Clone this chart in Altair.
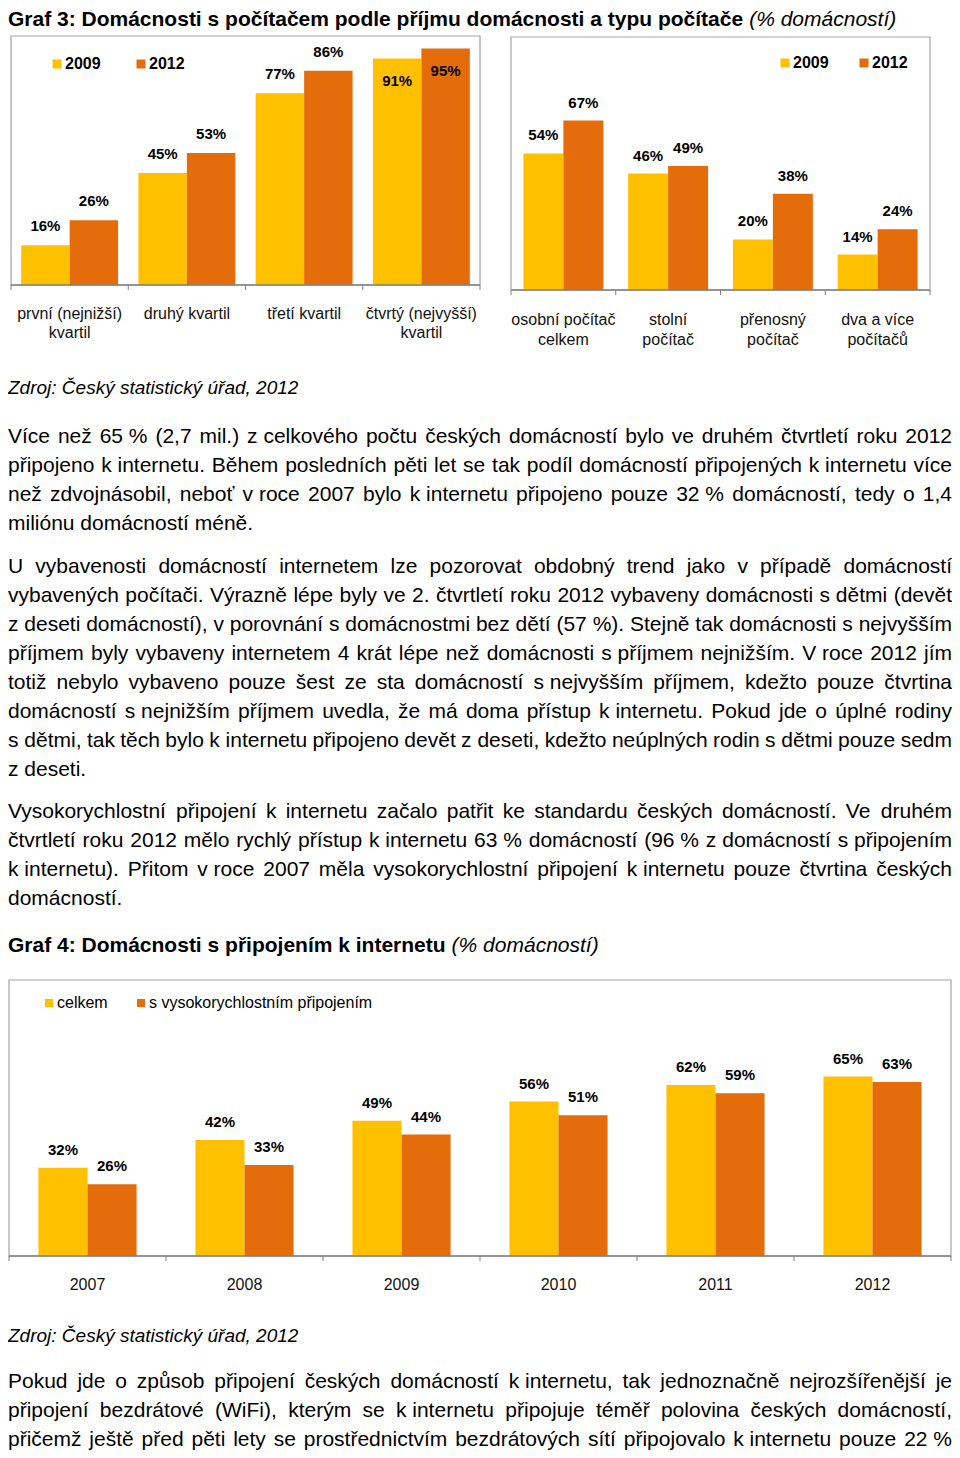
import unicodedata
import altair as alt
import pandas as pd

FONT = "Liberation Sans"
YELLOW = "#FFC000"
ORANGE = "#E46C0A"
FRAME = "#A6A6A6"
AXIS = "#808080"

# ---------------- data ----------------
income_categories = ["první (nejnižší)\nkvartil", "druhý kvartil", "třetí kvartil",
                     "čtvrtý (nejvyšší)\nkvartil"]
income_2009 = [16, 45, 77, 91]
income_2012 = [26, 53, 86, 95]

pc_categories = ["osobní počítač\ncelkem", "stolní\npočítač", "přenosný\npočítač",
                 "dva a více\npočítačů"]
pc_2009 = [54, 46, 20, 14]
pc_2012 = [67, 49, 38, 24]

graf3_series = ["2009", "2012"]

net_years = ["2007", "2008", "2009", "2010", "2011", "2012"]
net_total = [32, 42, 49, 56, 62, 65]
net_fast = [26, 33, 44, 51, 59, 63]
graf4_series = ["celkem", "s vysokorychlostním připojením"]

title3_bold = "Graf 3: Domácnosti s počítačem podle příjmu domácnosti a typu počítače"
title3_ital = "(% domácností)"
title4_bold = "Graf 4: Domácnosti s připojením k internetu"
title4_ital = "(% domácností)"
source_text = "Zdroj: Český statistický úřad, 2012"

# "~" marks a non-stretching space
para1 = [
    "Více než 65~% (2,7 mil.) z~celkového počtu českých domácností bylo ve druhém čtvrtletí roku 2012",
    "připojeno k~internetu. Během posledních pěti let se tak podíl domácností připojených k~internetu více",
    "než zdvojnásobil, neboť v~roce 2007 bylo k~internetu připojeno pouze 32~% domácností, tedy o 1,4",
    "miliónu domácností méně.",
]
para2 = [
    "U vybavenosti domácností internetem lze pozorovat obdobný trend jako v případě domácností",
    "vybavených počítači. Výrazně lépe byly ve 2. čtvrtletí roku 2012 vybaveny domácnosti s~dětmi (devět",
    "z~deseti domácností), v~porovnání s~domácnostmi bez dětí (57~%). Stejně tak domácnosti s~nejvyšším",
    "příjmem byly vybaveny internetem 4 krát lépe než domácnosti s~příjmem nejnižším. V~roce 2012 jím",
    "totiž nebylo vybaveno pouze šest ze sta domácností s~nejvyšším příjmem, kdežto pouze čtvrtina",
    "domácností s~nejnižším příjmem uvedla, že má doma přístup k~internetu. Pokud jde o úplné rodiny",
    "s~dětmi, tak těch bylo k~internetu připojeno devět z~deseti, kdežto neúplných rodin s~dětmi pouze sedm",
    "z~deseti.",
]
para3 = [
    "Vysokorychlostní připojení k internetu začalo patřit ke standardu českých domácností. Ve druhém",
    "čtvrtletí roku 2012 mělo rychlý přístup k~internetu 63~% domácností (96~% z~domácností s~připojením",
    "k~internetu). Přitom v~roce 2007 měla vysokorychlostní připojení k~internetu pouze čtvrtina českých",
    "domácností.",
]
para4 = [
    "Pokud jde o způsob připojení českých domácností k~internetu, tak jednoznačně nejrozšířenější je",
    "připojení bezdrátové (WiFi), kterým se k~internetu připojuje téměř polovina českých domácností,",
    "přičemž ještě před pěti lety se prostřednictvím bezdrátových sítí připojovalo k~internetu pouze 22~%",
]

# ---------------- text metrics (Arial / Liberation Sans) ----------------
REG = {' ': 278, '!': 278, '"': 355, '%': 889, '&': 667, "'": 191, '(': 333, ')': 333,
       ',': 278, '-': 333, '.': 278, '/': 278, ':': 278, ';': 278, '?': 556,
       'A': 667, 'B': 667, 'C': 722, 'D': 722, 'E': 667, 'F': 611, 'G': 778, 'H': 722,
       'I': 278, 'J': 500, 'K': 667, 'L': 556, 'M': 833, 'N': 722, 'O': 778, 'P': 667,
       'Q': 778, 'R': 722, 'S': 667, 'T': 611, 'U': 722, 'V': 667, 'W': 944, 'X': 667,
       'Y': 667, 'Z': 611,
       'a': 556, 'b': 556, 'c': 500, 'd': 556, 'e': 556, 'f': 278, 'g': 556, 'h': 556,
       'i': 222, 'j': 222, 'k': 500, 'l': 222, 'm': 833, 'n': 556, 'o': 556, 'p': 556,
       'q': 556, 'r': 333, 's': 500, 't': 278, 'u': 556, 'v': 500, 'w': 722, 'x': 500,
       'y': 500, 'z': 500}
REG_SPECIAL = {'í': 278, 'Í': 278, 'ď': 615, 'ť': 375}
BOLD = {' ': 278, ':': 333, '(': 333, ')': 333, '%': 889, 'G': 778, 'D': 722,
        'a': 556, 'c': 556, 'd': 611, 'e': 556, 'f': 333, 'i': 278, 'j': 278, 'k': 556,
        'l': 278, 'm': 889, 'n': 611, 'o': 611, 'p': 611, 'r': 389, 's': 556, 't': 333,
        'u': 611, 'y': 556}
BOLD_SPECIAL = {'í': 278}


def char_w(ch, table, special):
    if ch in special:
        return special[ch]
    if ch in table:
        return table[ch]
    if ch.isdigit():
        return 556
    base = unicodedata.normalize("NFD", ch)[0]
    return table.get(base, 556)


def text_w(s, fs, bold=False):
    table, special = (BOLD, BOLD_SPECIAL) if bold else (REG, REG_SPECIAL)
    return sum(char_w(c, table, special) for c in s) * fs / 1000.0


W, H = 944, 1442
BODY_FS = 21
LINE = 29


def justify(lines, y0, last_justified=False):
    rows = []
    for i, line in enumerate(lines):
        units = [u.replace("~", " ") for u in line.split(" ")]
        widths = [text_w(u, BODY_FS) for u in units]
        do_just = (i < len(lines) - 1) or last_justified
        if do_just and len(units) > 1:
            gap = (W - sum(widths)) / (len(units) - 1)
        else:
            gap = text_w(" ", BODY_FS)
        x = 0.0
        for u, w in zip(units, widths):
            rows.append({"w": u, "x": round(x, 2), "y": y0 + i * LINE})
            x += w + gap
    return rows


# ---------------- bar panels ----------------
def panel(cats, series, a_vals, b_vals, x0, x1, ytop, ybot, pad_outer, off,
          lab_y, lab_lh, legend_kw, clamp=None):
    df = pd.DataFrame([{"cat": c, "s": s, "v": v}
                       for c, a, b in zip(cats, a_vals, b_vals)
                       for s, v in ((series[0], a), (series[1], b))])
    cat_df = pd.DataFrame({"cat": cats})
    one = pd.DataFrame({"k": [0]})
    xs = alt.Scale(domain=cats, range=[x0, x1], paddingInner=0, paddingOuter=0)
    ys = alt.Scale(domain=[0, 100], range=[ybot, ytop])
    xo = alt.Scale(domain=series, paddingInner=0, paddingOuter=pad_outer)
    X = alt.X("cat:N", scale=xs, axis=None, sort=cats)
    XO = alt.XOffset("s:N", scale=xo, sort=series)

    frame = alt.Chart(one).mark_rect(fill="transparent", stroke=FRAME, strokeWidth=1.2).encode(
        x=alt.value(x0), x2=alt.value(x1), y=alt.value(ytop), y2=alt.value(ybot))
    bars = alt.Chart(df).mark_bar().encode(
        x=X, xOffset=XO, y=alt.Y("v:Q", scale=ys, axis=None),
        color=alt.Color("s:N", scale=alt.Scale(domain=series, range=[YELLOW, ORANGE]),
                        legend=alt.Legend(**legend_kw)))
    if clamp is None:
        expr = f"datum.v + {off}"
    else:
        expr = f"datum.v > {clamp} ? datum.v - 9 : datum.v + {off}"
    vlabels = alt.Chart(df).transform_calculate(ly=expr, t="datum.v + '%'").mark_text(
        font=FONT, fontSize=15, fontWeight="bold", color="#000", baseline="middle").encode(
        x=X, xOffset=XO, y=alt.Y("ly:Q", scale=ys, axis=None), text="t:N")
    clabels = alt.Chart(cat_df).mark_text(
        font=FONT, fontSize=16, color="#111", baseline="top", lineBreak="\n",
        lineHeight=lab_lh).encode(x=X, y=alt.value(lab_y), text="cat:N")
    ticks = alt.Chart(cat_df).mark_rule(color=AXIS).encode(
        x=alt.X("cat:N", scale=xs, axis=None, sort=cats, bandPosition=0),
        y=alt.value(ybot), y2=alt.value(ybot + 5))
    end_tick = alt.Chart(one).mark_rule(color=AXIS).encode(
        x=alt.value(x1), y=alt.value(ybot), y2=alt.value(ybot + 5))
    axis_line = alt.Chart(one).mark_rule(color=AXIS, strokeWidth=1.5).encode(
        x=alt.value(x0), x2=alt.value(x1), y=alt.value(ybot))
    return alt.layer(frame, bars, vlabels, clabels, ticks, end_tick, axis_line)


def legend_kw(lx, ly, pad, bold, size):
    return dict(orient="none", legendX=lx, legendY=ly, direction="horizontal", title=None,
                symbolType="square", symbolSize=size, symbolStrokeWidth=0,
                labelFont=FONT, labelFontSize=16, labelColor="#000",
                labelFontWeight="bold" if bold else "normal",
                columnPadding=pad, labelOffset=0, labelLimit=400)


left = panel(income_categories, graf3_series, income_2009, income_2012,
             3, 472, 28, 277, 0.21, 7.6, 297.5, 19,
             legend_kw(41, 48, 32, True, 81), clamp=88)
right = panel(pc_categories, graf3_series, pc_2009, pc_2012,
              503, 922, 29, 282, 0.31, 7.1, 303.5, 20,
              legend_kw(769, 47, 27, True, 81))
graf4 = panel(net_years, graf4_series, net_total, net_fast,
              1, 943, 972, 1248, 0.6, 6.5, 1269, 19,
              legend_kw(33, 987, 25, False, 64))


# ---------------- text layers ----------------
def single(text, x, y, fs, weight="normal", style="normal", baseline="middle"):
    return alt.Chart(pd.DataFrame({"t": [text]})).mark_text(
        font=FONT, fontSize=fs, fontWeight=weight, fontStyle=style, color="#000",
        align="left", baseline=baseline).encode(x=alt.value(x), y=alt.value(y), text="t:N")


t3b = single(title3_bold, 0, 18, 21, weight="bold", baseline="alphabetic")
t3i = single(title3_ital, text_w(title3_bold, 21, True) + 6, 18, 21, style="italic",
             baseline="alphabetic")
t4b = single(title4_bold, 0, 938, 21, weight="bold")
t4i = single(title4_ital, text_w(title4_bold, 21, True) + 6, 938, 21, style="italic")
src1 = single(source_text, 0, 380, 19, style="italic")
src2 = single(source_text, 0, 1328, 19, style="italic")

words = (justify(para1, 429) + justify(para2, 559) + justify(para3, 804)
         + justify(para4, 1374, last_justified=True))
body = alt.Chart(pd.DataFrame(words)).mark_text(
    font=FONT, fontSize=BODY_FS, color="#000", align="left", baseline="middle").encode(
    x=alt.X("x:Q", scale=None), y=alt.Y("y:Q", scale=None), text="w:N")

chart = alt.layer(left, right, graf4, t3b, t3i, t4b, t4i, src1, src2, body).resolve_scale(
    x="independent", y="independent", xOffset="independent", color="independent"
).resolve_legend(color="independent").properties(
    width=W, height=H, padding=0, autosize=alt.AutoSizeParams(type="none")
).configure_view(strokeWidth=0)

chart.save("out.html", embed_options={"renderer": "svg", "actions": False})
